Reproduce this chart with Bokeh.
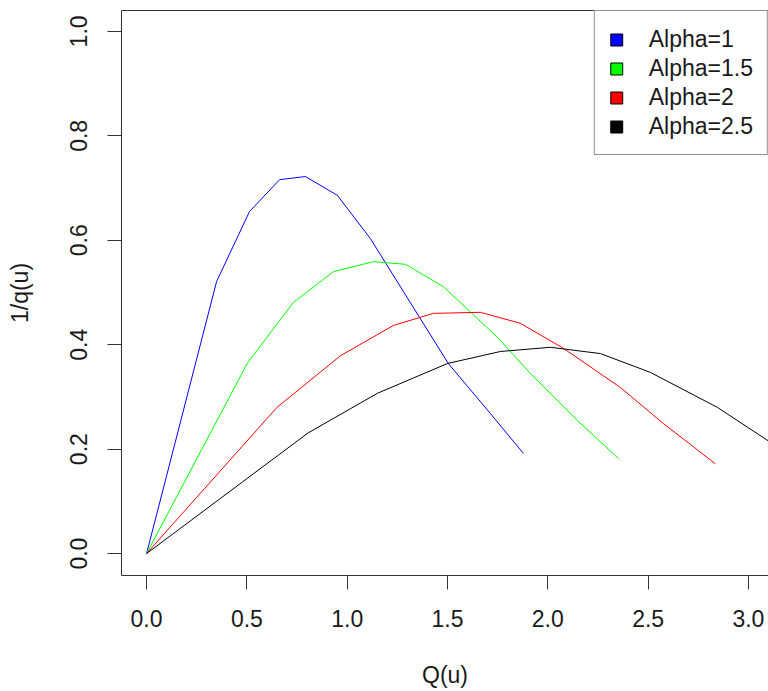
from bokeh.plotting import figure
from bokeh.models import (Range1d, FixedTicker, PrintfTickFormatter, Legend, LegendItem,
                          LinearAxis)
from bokeh.embed import file_html
from bokeh.resources import INLINE

# ---- data ----
series_names = ["Alpha=1", "Alpha=1.5", "Alpha=2", "Alpha=2.5"]
series_colors = ["#0000FF", "#00FF00", "#FF0000", "#000000"]

q_alpha1 = [0.0, 0.349, 0.513, 0.663, 0.792, 0.951, 1.116, 1.504, 1.714, 1.878]
invq_alpha1 = [0.0, 0.521, 0.655, 0.716, 0.722, 0.686, 0.603, 0.364, 0.268, 0.192]

q_alpha15 = [0.0, 0.503, 0.732, 0.932, 1.131, 1.290, 1.480, 1.749, 1.913, 2.147, 2.352]
invq_alpha15 = [0.0, 0.365, 0.481, 0.540, 0.559, 0.554, 0.511, 0.414, 0.345, 0.255, 0.182]

q_alpha2 = [0.0, 0.650, 0.967, 1.231, 1.430, 1.664, 1.863, 2.078, 2.362, 2.576, 2.835]
invq_alpha2 = [0.0, 0.280, 0.379, 0.437, 0.460, 0.462, 0.441, 0.393, 0.318, 0.249, 0.172]

q_alpha25 = [0.0, 0.805, 1.151, 1.500, 1.764, 2.013, 2.262, 2.511, 2.845, 3.320]
invq_alpha25 = [0.0, 0.231, 0.307, 0.364, 0.387, 0.395, 0.383, 0.347, 0.280, 0.160]

x_ticks = [0.0, 0.5, 1.0, 1.5, 2.0, 2.5, 3.0]
y_ticks = [0.0, 0.2, 0.4, 0.6, 0.8, 1.0]

FONT = "Liberation Sans"
FS = "23px"
TXT = "#1a1a1a"

p = figure(width=768, height=691, output_backend="svg", toolbar_location=None,
           x_range=Range1d(-0.125, 3.10), y_range=Range1d(-0.042, 1.040),
           min_border_left=121, min_border_right=0, min_border_top=10,
           min_border_bottom=116, x_axis_location=None, y_axis_location=None)
p.grid.visible = False
p.outline_line_color = None
p.background_fill_color = "white"
p.border_fill_color = "white"

xax = LinearAxis(axis_label="Q(u)")
yax = LinearAxis(axis_label="1/q(u)")
for ax, ticks in ((xax, x_ticks), (yax, y_ticks)):
    ax.ticker = FixedTicker(ticks=ticks)
    ax.formatter = PrintfTickFormatter(format="%.1f")
    ax.minor_tick_line_color = None
    ax.major_tick_in = 0
    ax.major_tick_out = 14
    ax.major_tick_line_color = "#333333"
    ax.axis_line_color = "#333333"
    ax.major_label_text_font = FONT
    ax.major_label_text_font_size = FS
    ax.major_label_text_color = TXT
    ax.axis_label_text_font = FONT
    ax.axis_label_text_font_size = FS
    ax.axis_label_text_font_style = "normal"
    ax.axis_label_text_color = TXT
xax.major_label_standoff = 20
xax.axis_label_standoff = 32
yax.major_label_orientation = "vertical"
yax.major_label_standoff = 20
yax.axis_label_standoff = 35
p.add_layout(xax, "below")
p.add_layout(yax, "left")

top = LinearAxis(ticker=FixedTicker(ticks=[]), major_label_text_font_size="0px",
                 major_tick_out=0, major_tick_in=0, minor_tick_line_color=None,
                 axis_line_color="#333333", major_label_standoff=0)
p.add_layout(top, "above")

xs = [q_alpha1, q_alpha15, q_alpha2, q_alpha25]
ys = [invq_alpha1, invq_alpha15, invq_alpha2, invq_alpha25]
items = []
for x, y, c, name in zip(xs, ys, series_colors, series_names):
    p.line(x, y, line_color=c, line_width=1)
    # hidden bar renderer used only as a filled-square legend key
    key = p.vbar(x=x, top=y, width=0.01, fill_color=c, line_color="black",
                 line_width=1, visible=False)
    items.append(LegendItem(label=name, renderers=[key]))

legend = Legend(items=items, location="top_right", margin=0, padding=14, spacing=1,
                glyph_width=15, glyph_height=15, label_standoff=25, label_height=28,
                label_text_font=FONT, label_text_font_size=FS, label_text_color=TXT,
                label_text_baseline="middle",
                border_line_color="#222222", border_line_width=1,
                background_fill_color="white", background_fill_alpha=1.0,
                click_policy="none", inactive_fill_alpha=0.0)
p.add_layout(legend, "center")

open("out.html", "w").write(file_html(p, INLINE))
